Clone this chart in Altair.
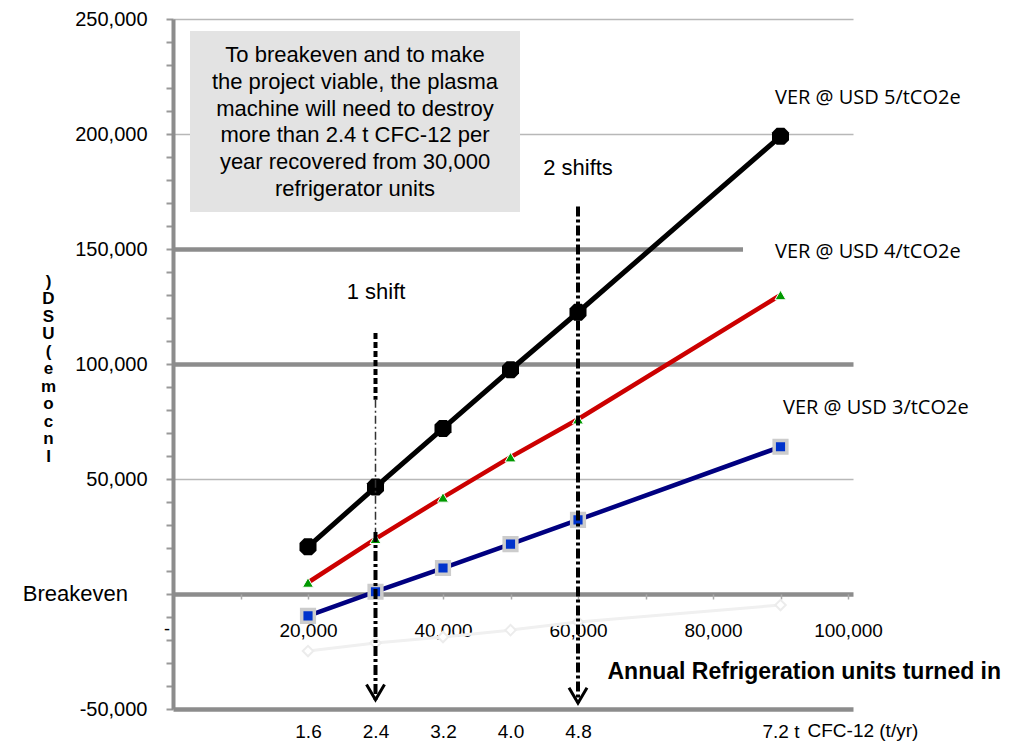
import altair as alt
import pandas as pd

# ---------------- data ----------------
units = [20000, 30000, 40000, 50000, 60000, 90000]
tonnes = ["1.6", "2.4", "3.2", "4.0", "4.8", "7.2 t"]
ver5 = [20500, 46500, 72000, 97500, 122500, 199000]
ver4 = [5000, 24000, 42000, 59500, 76000, 130000]
ver3 = [-9500, 1000, 11300, 21700, 32200, 64000]
faint = [-24800, -21300, -18700, -15700, -12200, -4800]
series_names = ["VER @ USD 5/tCO2e", "VER @ USD 4/tCO2e", "VER @ USD 3/tCO2e"]

y_ticks = list(range(-50000, 250001, 10000))
x_ticks = list(range(0, 100001, 10000))

# annotation anchors (data space)
label_u = [89187, 89187, 90372]
label_v = [215652, 148696, 80870]
shift_text = ["1 shift", "2 shifts"]
shift_u = [30075, 60000]
shift_v = [131304, 185217]
arrow_u = [30000, 60000]
arrow_top = [113500, 168500]
arrow_tip = [-46000, -47400]
arrow1_thin = [84500, 27000]
box_lines = ["To breakeven and to make", "the project viable, the plasma",
             "machine will need to destroy", "more than 2.4 t  CFC-12 per",
             "year recovered from 30,000", "refrigerator units"]
box_u = [2518, 51410]
box_v = [244783, 166087]
box_text_u = 26963
box_text_v = 234348

W, H = 680, 690
XDOM = [0, 100740]
YDOM = [-50000, 250000]
FONT = "Liberation Sans"


def X(field="u", axis=None):
    return alt.X(f"{field}:Q", scale=alt.Scale(domain=XDOM, nice=False, zero=False), axis=axis)


def Y(field="v", axis=None):
    return alt.Y(f"{field}:Q", scale=alt.Scale(domain=YDOM, nice=False, zero=False), axis=axis)


thick_test = "datum.value === 150000 || datum.value === 100000 || datum.value === 0 || datum.value === -50000"

y_axis = alt.Axis(
    values=y_ticks,
    labelExpr=("datum.value !== 0 && datum.value % 50000 === 0 ? "
               "(datum.value < 0 ? '-' + format(-datum.value, ',') : format(datum.value, ',')) : ''"),
    title=[")", "D", "S", "U", "(", "e", "m", "o", "c", "n", "I"],
    titleAngle=0, titleX=-125, titleY=262, titleAlign="center", titleBaseline="middle",
    titleFont=FONT, titleFontSize=17, titleFontWeight="bold", titleLineHeight=17.5, titleColor="black",
    labelFont=FONT, labelFontSize=20, labelColor="black", labelPadding=19, labelOverlap=False,
    tickSize=7, tickWidth=2, tickColor="#999999",
    domainColor="#8c8c8c", domainWidth=4,
    grid=True,
    gridColor={"condition": {"test": thick_test, "value": "#8c8c8c"}, "value": "#b8b8b8"},
    gridWidth={"condition": {"test": thick_test, "value": 4.5}, "value": 1.5},
    gridOpacity={"condition": {"test": "datum.value % 50000 !== 0", "value": 0}, "value": 1},
)

x_axis1 = alt.Axis(
    orient="bottom", values=x_ticks, offset=-115,
    labelExpr="datum.value > 0 && datum.value % 20000 === 0 ? format(datum.value, ',') : ''",
    domain=False, grid=False, tickSize=5, tickColor="#aaaaaa", tickWidth=1.5,
    labelPadding=22, labelFont=FONT, labelFontSize=19, labelColor="black",
    labelOverlap=False, labelFlush=False,
    title="Annual Refrigeration units turned in", titleX=434, titleY=77,
    titleAlign="left", titleBaseline="middle", titleFont=FONT, titleFontSize=23,
    titleFontWeight="bold", titleColor="black",
)

label_expr2 = ("[" + ",".join(f"'{t}'" for t in tonnes) + "][indexof(["
               + ",".join(str(u) for u in units) + "], datum.value)]")
x_axis2 = alt.Axis(
    orient="bottom", values=units, labelExpr=label_expr2,
    domain=False, ticks=False, tickSize=0, grid=False,
    labelPadding=13, labelFont=FONT, labelFontSize=19, labelColor="black",
    labelOverlap=False, labelFlush=False,
    title="CFC-12 (t/yr)", titleX=634, titleY=21, titleAlign="left", titleBaseline="middle",
    titleFont=FONT, titleFontSize=19, titleFontWeight="normal", titleColor="black",
)

# ---------------- series ----------------
df_f = pd.DataFrame({"u": units, "v": faint})
df_3 = pd.DataFrame({"u": units, "v": ver3})
df_4 = pd.DataFrame({"u": units, "v": ver4})
df_5 = pd.DataFrame({"u": units, "v": ver5})

faint_line = alt.Chart(df_f).mark_line(color="#f0f0f0", strokeWidth=3).encode(x=X(axis=x_axis2), y=Y())
faint_pts = alt.Chart(df_f).mark_point(shape="diamond", filled=True, fill="white", stroke="#ececec",
                                       strokeWidth=2, size=110, opacity=1).encode(x=X(), y=Y())

blue_line = alt.Chart(df_3).mark_line(color="#000080", strokeWidth=4.5).encode(x=X(), y=Y())
blue_pts = alt.Chart(df_3).mark_point(shape="square", filled=True, fill="#0033cc", stroke="#cccccc",
                                      strokeWidth=3.5, size=160, opacity=1).encode(x=X(), y=Y())

red_line = alt.Chart(df_4).mark_line(color="#cc0000", strokeWidth=4.5).encode(x=X(), y=Y())
red_pts = alt.Chart(df_4).mark_point(shape="triangle-up", filled=True, fill="#009900", stroke="white",
                                     strokeWidth=1, size=120, opacity=1).encode(x=X(), y=Y())

octagon = "M-0.45,-1L0.45,-1L1,-0.45L1,0.45L0.45,1L-0.45,1L-1,0.45L-1,-0.45Z"
black_line = alt.Chart(df_5).mark_line(color="black", strokeWidth=5).encode(x=X(axis=x_axis1), y=Y(axis=y_axis))
black_pts = alt.Chart(df_5).mark_point(shape=octagon, filled=True, fill="black", size=290,
                                       opacity=1).encode(x=X(), y=Y())

# ---------------- annotations ----------------
box_df = pd.DataFrame({"u": [box_u[0]], "u2": [box_u[1]], "v": [box_v[0]], "v2": [box_v[1]]})
box = alt.Chart(box_df).mark_rect(fill="#e3e3e3").encode(x=X(), x2="u2", y=Y(), y2="v2")
box_text = alt.Chart(pd.DataFrame({"u": [box_text_u], "v": [box_text_v]})).mark_text(
    text=box_lines, font=FONT, fontSize=22, lineHeight=26.8, align="center", baseline="middle",
    color="black").encode(x=X(), y=Y())

lab4_bg = alt.Chart(pd.DataFrame({"u": [label_u[1] - 4742], "u2": [XDOM[1]],
                                  "v": [label_v[1] - 2200], "v2": [label_v[1] + 4800]})).mark_rect(
    fill="white").encode(x=X(), x2="u2", y=Y(), y2="v2")

labels_df = pd.DataFrame({"u": label_u, "v": label_v, "t": series_names})
labels = alt.Chart(labels_df).mark_text(font="Open Sans", fontSize=20, align="left", baseline="middle",
                                        color="black").encode(x=X(), y=Y(), text="t:N")

shift_df = pd.DataFrame({"u": shift_u, "v": shift_v, "t": shift_text})
shifts = alt.Chart(shift_df).mark_text(font=FONT, fontSize=22, align="center", baseline="middle",
                                       color="black").encode(x=X(), y=Y(), text="t:N")

seg_dotted = pd.DataFrame({"u": [arrow_u[0]], "v": [arrow_top[0]], "v2": [arrow1_thin[0]]})
seg_thin = pd.DataFrame({"u": [arrow_u[0]], "v": [arrow1_thin[0]], "v2": [arrow1_thin[1]]})
seg_thick = pd.DataFrame({"u": arrow_u, "v": [arrow1_thin[1], arrow_top[1]], "v2": arrow_tip})
heads_df = pd.DataFrame({"u": arrow_u, "v": arrow_tip})

a1 = alt.Chart(seg_dotted).mark_rule(color="black", strokeWidth=4, strokeDash=[6, 3]).encode(
    x=X(), y=Y(), y2="v2")
a2 = alt.Chart(seg_thin).mark_rule(color="#333333", strokeWidth=1.5, strokeDash=[8, 3, 2, 3]).encode(
    x=X(), y=Y(), y2="v2")
a3 = alt.Chart(seg_thick).mark_rule(color="black", strokeWidth=4, strokeDash=[10, 3, 3, 3]).encode(
    x=X(), y=Y(), y2="v2")
heads = alt.Chart(heads_df).mark_point(shape="M-1,-1.7L0,0L1,-1.7", filled=False, stroke="black",
                                       strokeWidth=3, size=324, opacity=1).encode(x=X(), y=Y())

be = alt.Chart(pd.DataFrame({"v": [0]})).mark_text(text="Breakeven", font=FONT, fontSize=22,
                                                   align="right", baseline="middle", color="black").encode(
    x=alt.value(-45), y=Y())
dash = alt.Chart(pd.DataFrame({"v": [-15652]})).mark_text(text="-", font=FONT, fontSize=18,
                                                          align="center", baseline="middle",
                                                          color="black").encode(
    x=alt.value(-6), y=Y())

chart = alt.layer(
    faint_line, faint_pts,
    blue_line, red_line, black_line,
    blue_pts, red_pts, black_pts,
    box, box_text, lab4_bg, labels, shifts,
    a1, a2, a3, heads, be, dash,
).resolve_axis(x="independent", y="independent").properties(
    width=W, height=H,
    autosize=alt.AutoSizeParams(type="none"),
    padding={"left": 165, "top": 11, "right": 167, "bottom": 33},
    background="white",
).configure_view(strokeWidth=0)

chart.save("out.html", embed_options={"renderer": "svg", "actions": False})
